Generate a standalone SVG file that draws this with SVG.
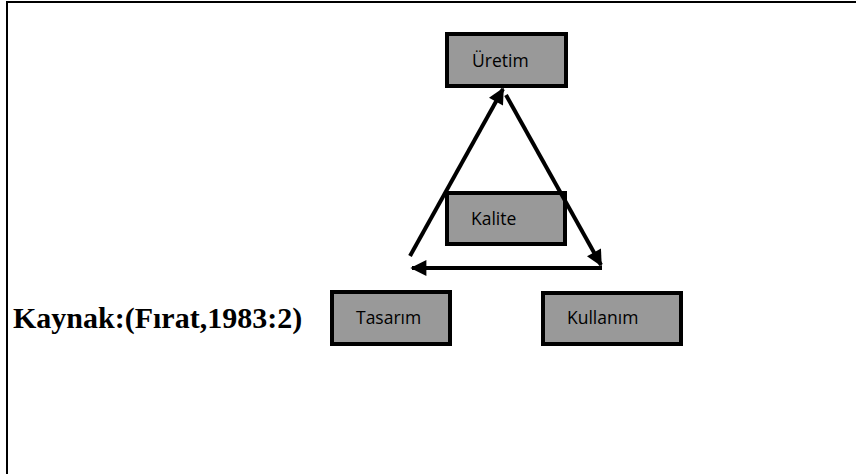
<svg xmlns="http://www.w3.org/2000/svg" width="856" height="474" viewBox="0 0 856 474">
<style>
.box{fill:#999999;stroke:#000;stroke-width:4}
.lbl{font-family:"Open Sans","Noto Sans",sans-serif;font-size:17.5px;fill:#000}
.con{stroke:#000;stroke-width:4;fill:none}
.src{font-family:"Liberation Serif",serif;font-weight:bold;font-size:30px;fill:#000}
</style>
<defs>
<marker id="ah" viewBox="0 0 10 10" refX="9" refY="5" markerWidth="4.5" markerHeight="4" markerUnits="strokeWidth" orient="auto">
<path d="M0,0 L10,5 L0,10 z" fill="#000"/>
</marker>
</defs>
<rect width="856" height="474" fill="#fff"/>
<path d="M7,474 V2 H856" fill="none" stroke="#000" stroke-width="2"/>
<g id="uretim"><rect class="box" x="447" y="34" width="119" height="52"/><text class="lbl" x="472" y="67">Üretim</text></g>
<g id="kalite"><rect class="box" x="447" y="193" width="118" height="51"/><text class="lbl" x="471" y="225">Kalite</text></g>
<g id="tasarim"><rect class="box" x="332" y="292" width="118" height="52"/><text class="lbl" x="356" y="324">Tasarım</text></g>
<g id="kullanim"><rect class="box" x="543" y="293" width="138" height="51"/><text class="lbl" x="567" y="324">Kullanım</text></g>
<g id="connectors">
<line class="con" x1="410" y1="256" x2="503" y2="89" marker-end="url(#ah)"/>
<line class="con" x1="506" y1="95" x2="601" y2="265" marker-end="url(#ah)"/>
<line class="con" x1="602" y1="268" x2="412" y2="268" marker-end="url(#ah)"/>
</g>
<text class="src" x="13" y="328">Kaynak:(Fırat,1983:2)</text>
</svg>
